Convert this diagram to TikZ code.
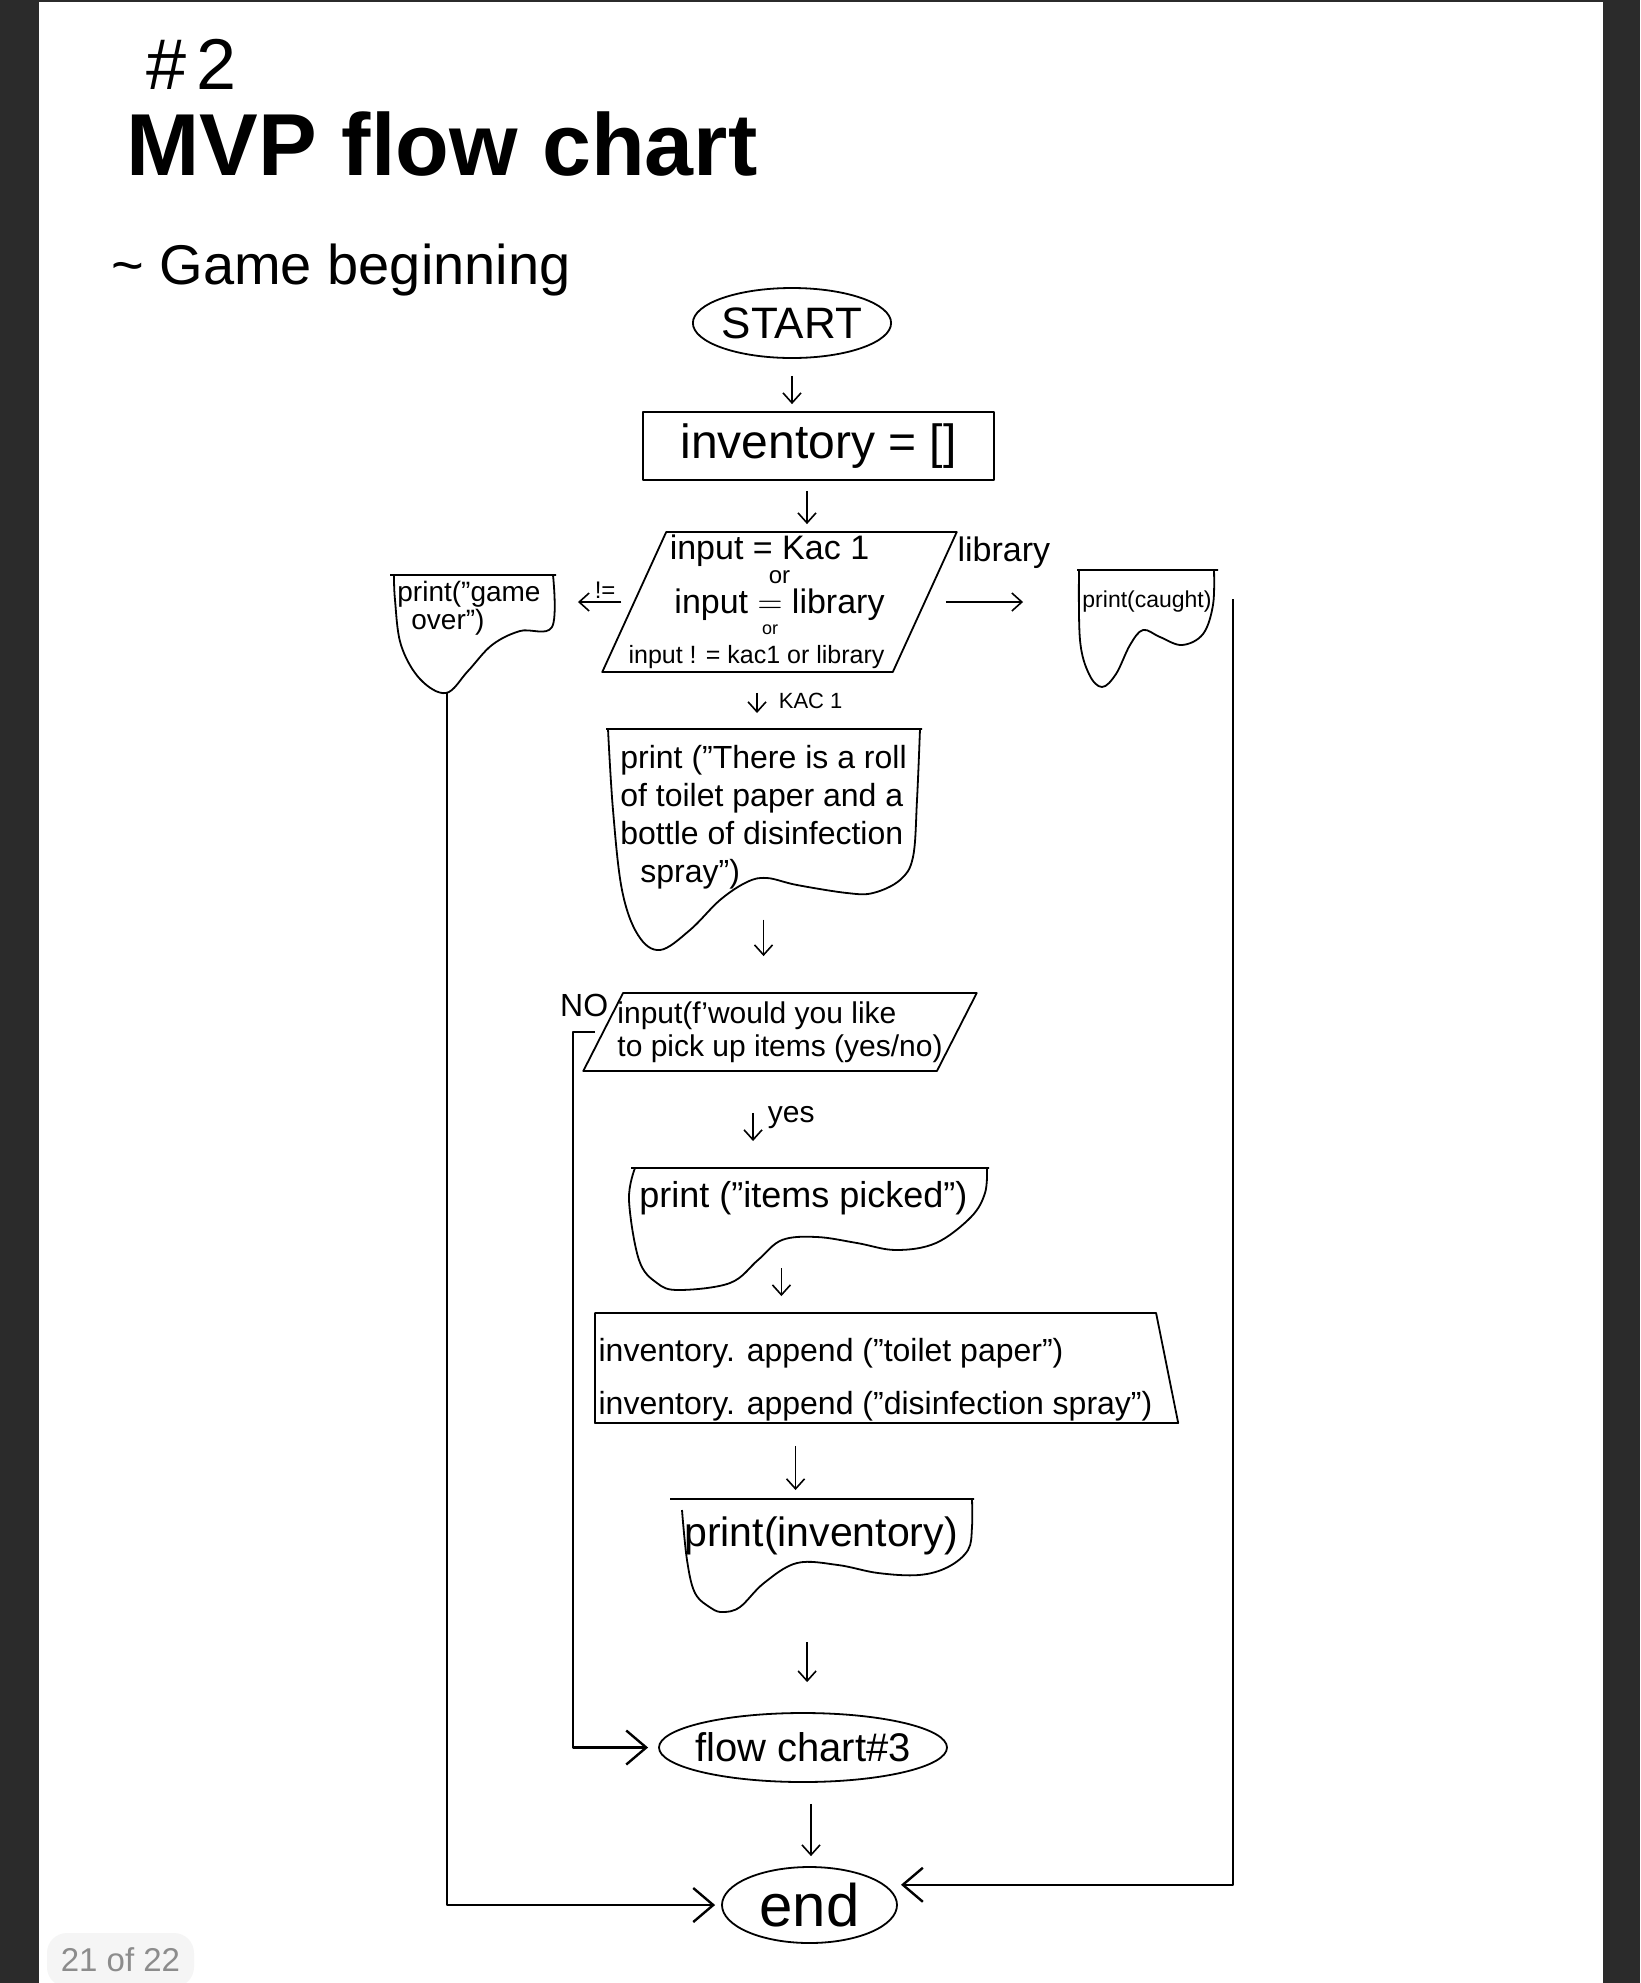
\documentclass[tikz,border=0pt]{standalone}
\usepackage{amsmath}
\usepackage{fontspec}
\setmainfont{Liberation Sans}
\usetikzlibrary{arrows.meta,shapes.geometric}
\newcommand\fsz[2]{\fontsize{#1}{#2}\selectfont}

\begin{document}
\begin{tikzpicture}[x=0.5pt, y=-0.5pt, line join=round,
      box/.style={draw, line width=0.9pt, inner sep=0pt},
      term/.style={box, ellipse},
      para/.style={box, trapezium, trapezium stretches=true,
        trapezium left angle=65, trapezium right angle=115},
      wave/.style={line width=0.9pt},
      txt/.style={inner sep=0pt, align=left},
      lbl/.style={inner sep=0pt},
      ar/.style={-{Straight Barb[length=5pt, width=9pt]}, line width=0.8pt},
      conn/.style={-{Straight Barb[length=10pt, width=17pt]}, line width=1.2pt}]
    % page
    \fill[black!83] (0,0) rectangle (1640,1983);
    \fill[white] (39,2) rectangle (1603,1983);
    \useasboundingbox (0,0) rectangle (1640,1983);
    \node[fill=black!4, rounded corners=10pt, minimum width=73.5pt, minimum height=27pt,
      text=black!45, font=\fsz{16.5}{16.5}] (page) at (120.5,1960) {21 of 22};
    % heading
    \node[lbl, font=\fsz{36}{36}] (num) at (192,64) {\#\hspace{5pt}2};
    \node[lbl, font=\fsz{44}{44}\bfseries] (title) at (442,144) {MVP flow chart};
    \node[lbl, font=\fsz{28}{28}] (sub) at (341,270) {\textasciitilde\ Game beginning};
    % main column
    \node[term, minimum width=97pt, minimum height=35pt, font=\fsz{22}{22}] (start) at (792,323) {START};
    \node[box, minimum width=175.5pt, minimum height=34pt, font=\fsz{24}{24}] (inv) at (818.5,446) {inventory = []};
    \node[para, minimum width=177.5pt, minimum height=70pt, inner xsep=-20pt, align=center,
      font=\fsz{17}{17}] (q1) at (779.5,602)
      {input = Kac 1\hspace*{10pt}\\[-5pt]{\fsz{12}{12}or}\hspace*{6pt}\\[-2pt]input $\underset{\text{\fsz{9}{9}or}}{=}$ library\\[3pt]{\fsz{12.5}{13}input ! = kac1 or library}\hspace*{23pt}};
    \draw[wave] (606,729) -- (922,729)
      plot[smooth, tension=0.6] coordinates {(920,729) (917,800) (913,857) (900,880) (873,893) (847,893)
        (797,885) (767,878) (747,882) (720,900) (690,930) (660,950) (638,935) (622,890) (613,810) (608,729)};
    \node[txt, anchor=north west, font=\fsz{16}{19}] (msg) at (620,745)
      {print ("There is a roll\\of toilet paper and a\\bottle of disinfection\\\hspace*{10pt}spray")};
    \node[para, trapezium left angle=63, trapezium right angle=117, minimum width=197pt, minimum height=39pt,
      inner xsep=-20pt, align=left, font=\fsz{15}{16.5}] (q2) at (780,1032)
      {input(f'would you like\\to pick up items (yes/no)};
    \draw[wave] (631,1168) -- (989,1168)
      plot[smooth, tension=0.6] coordinates {(987,1168) (985,1193) (971,1217) (936,1243) (896,1250) (857,1243)
        (817,1237) (782,1240) (758,1260) (730,1283) (679,1290) (657,1283) (639,1260) (629,1200) (635,1168)};
    \node[txt, anchor=north west, font=\fsz{18}{18}] (picked) at (639,1181) {print ("items picked")};
    \node[box, trapezium, trapezium stretches=true, trapezium left angle=90, trapezium right angle=79,
      minimum width=292.5pt, minimum height=55pt, inner xsep=-8pt, align=left, font=\fsz{16}{26.5}] (app) at (875.5,1368)
      {\rule{0pt}{23pt}inventory. append ("toilet paper")\\inventory. append ("disinfection spray")};
    \draw[wave] (670,1499) -- (974,1499)
      plot[smooth, tension=0.6] coordinates {(972,1499) (972,1527) (968,1550) (948,1567) (919,1575) (878,1573)
        (838,1565) (797,1563) (764,1583) (740,1607) (723,1612) (711,1608) (695,1593) (687,1560) (682,1510)};
    \node[txt, anchor=north west, font=\fsz{20.5}{20.5}] (pinv) at (684,1516) {print(inventory)};
    \node[term, minimum width=144pt, minimum height=34.5pt, inner xsep=-8pt, font=\fsz{20}{20}] (fc3) at (803,1747.5) {flow chart\#3};
    \node[term, minimum width=87.5pt, minimum height=38pt, font=\fsz{30}{30}] (finish) at (809.5,1905) {end};
    % side outputs
    \draw[wave] (390,575) -- (556,575)
      plot[smooth, tension=0.6] coordinates {(553,575) (552,627) (520,631) (492,645) (468,671) (446,693)
        (420,679) (401,645) (395,600) (394,575)};
    \node[txt, anchor=north west, font=\fsz{14}{12.5}] (over) at (397,581) {print("game\\\hspace*{7pt}over")};
    \coordinate (overlow) at (447,693);
    \draw[wave] (1077,570) -- (1218,570)
      plot[smooth, tension=0.6] coordinates {(1214,570) (1213,605) (1203,634) (1182,645) (1160,637) (1143,630)
        (1130,645) (1116,674) (1102,687) (1089,674) (1080,640) (1079,570)};
    \node[lbl, font=\fsz{11.5}{11.5}] (caught) at (1147,602) {print(caught)};
    \coordinate (caughtexit) at (1233,599);
    % arrows
    \draw[ar, shorten <=8.5pt, shorten >=3.5pt] (start.south) -- (start.south |- inv.north);
    \draw[ar, shorten <=5pt, shorten >=3.5pt] ([xshift=-5.75pt]inv.south) -- ([xshift=-5.75pt]inv.south |- q1.north);
    \draw[ar, shorten <=10pt, shorten >=16pt] ([xshift=-11.25pt]q1.south) --
      node[lbl, anchor=west, pos=0.39, xshift=10.5pt, font=\fsz{11}{11}] (kac) {KAC 1} ([xshift=-11.25pt]q1.south |- msg.north);
    \draw[ar, shorten <=15pt, shorten >=18pt] (msg.south) -- (msg.south |- q2.north);
    \draw[ar, shorten <=20.5pt, shorten >=20pt] ([xshift=-13.5pt]q2.south) --
      node[lbl, anchor=west, pos=0.42, xshift=7pt, font=\fsz{15}{15}] (yes) {yes} ([xshift=-13.5pt]q2.south |- picked.north);
    \draw[ar, shorten <=26.5pt, shorten >=8pt] ([xshift=-11pt]picked.south) -- ([xshift=-11pt]picked.south |- app.north);
    \draw[ar, shorten <=11pt, shorten >=13pt] ([xshift=-40pt]app.south) -- ([xshift=-40pt]app.south |- pinv.north);
    \draw[ar, shorten <=43.5pt, shorten >=15pt] ([xshift=-7pt]pinv.south) -- ([xshift=-7pt]pinv.south |- fc3.north);
    \draw[ar, shorten <=10.5pt, shorten >=5pt] ([xshift=4pt]fc3.south) -- ([xshift=4pt]fc3.south |- finish.north);
    \draw[ar, shorten <=10pt, shorten >=29.5pt] (q1.east) --
      node[lbl, above=16.5pt, font=\fsz{17}{17}] (lib) {library} (q1.east -| caught.west);
    \draw[ar, shorten <=6pt, shorten >=18.5pt] (q1.west) --
      node[lbl, above=1.5pt, xshift=9pt, font=\fsz{12}{12}] (neq) {!=} (q1.west -| over.east);
    \draw[conn, shorten >=5pt] ([xshift=-3.5pt]q2.west) --
      node[lbl, above=7pt, font=\fsz{16}{16}] (no) {NO} ([xshift=-14.5pt]q2.west) |- (fc3.west);
    \draw[conn, shorten >=3pt] (overlow) |- (finish.west);
    \draw[conn, shorten >=8pt] (caughtexit) |- (finish.15);
  \end{tikzpicture}
\end{document}
